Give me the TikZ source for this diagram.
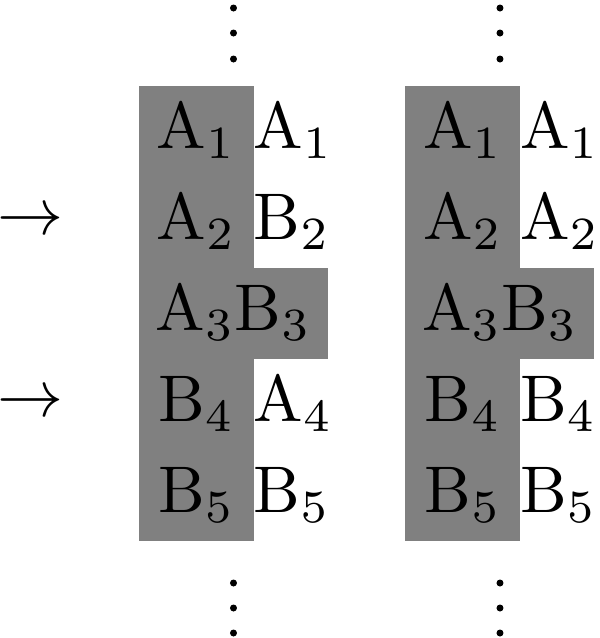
\documentclass[tikz,border=0pt]{standalone}
\usepackage{graphicx}
\usetikzlibrary{positioning}
\def\pxu{0.377pt}
\newcommand\sym[1]{\scalebox{2.488}{$#1$}}
\tikzset{cell/.style={inner sep=0pt,outer sep=0pt,minimum height=91*\pxu},
         wide/.style={cell,minimum width=115*\pxu},
         narrow/.style={cell,minimum width=74*\pxu},
         shaded/.style={fill=gray}}

\begin{document}
\begin{tikzpicture}[x=\pxu,y=-\pxu]
    \useasboundingbox (0,0) rectangle (600,638);
    % left column
    \node[wide,shaded] (la1) at (196.5,131) {\sym{\mathrm{A}_1}};
    \node[narrow,right=0pt of la1] (ra1) {\sym{\mathrm{A}_1}};
    \node[wide,shaded,below=0pt of la1] (la2) {\sym{\mathrm{A}_2}};
    \node[narrow,right=0pt of la2] (ra2) {\sym{\mathrm{B}_2}};
    \node[cell,shaded,minimum width=189*\pxu,anchor=north west] (ma3) at (la2.south west) {\sym{\mathrm{A}_3\mathrm{B}_3}};
    \node[wide,shaded,anchor=north west] (la4) at (ma3.south west) {\sym{\mathrm{B}_4}};
    \node[narrow,right=0pt of la4] (ra4) {\sym{\mathrm{A}_4}};
    \node[wide,shaded,below=0pt of la4] (la5) {\sym{\mathrm{B}_5}};
    \node[narrow,right=0pt of la5] (ra5) {\sym{\mathrm{B}_5}};
    % right column
    \node[wide,shaded] (lb1) at (463,131) {\sym{\mathrm{A}_1}};
    \node[narrow,right=0pt of lb1] (rb1) {\sym{\mathrm{A}_1}};
    \node[wide,shaded,below=0pt of lb1] (lb2) {\sym{\mathrm{A}_2}};
    \node[narrow,right=0pt of lb2] (rb2) {\sym{\mathrm{A}_2}};
    \node[cell,shaded,minimum width=189*\pxu,anchor=north west] (mb3) at (lb2.south west) {\sym{\mathrm{A}_3\mathrm{B}_3}};
    \node[wide,shaded,anchor=north west] (lb4) at (mb3.south west) {\sym{\mathrm{B}_4}};
    \node[narrow,right=0pt of lb4] (rb4) {\sym{\mathrm{B}_4}};
    \node[wide,shaded,below=0pt of lb4] (lb5) {\sym{\mathrm{B}_5}};
    \node[narrow,right=0pt of lb5] (rb5) {\sym{\mathrm{B}_5}};
    % arrows
    \node (arr2) at (30,222) {\sym{\rightarrow}};
    \node (arr4) at (30,404) {\sym{\rightarrow}};
    % dots
    \foreach \y in {8,33,59,583,608,633}{
        \fill (ma3.center |- 0,\y) circle[radius=3.5];
        \fill (mb3.center |- 0,\y) circle[radius=3.5];
    }
\end{tikzpicture}
\end{document}
